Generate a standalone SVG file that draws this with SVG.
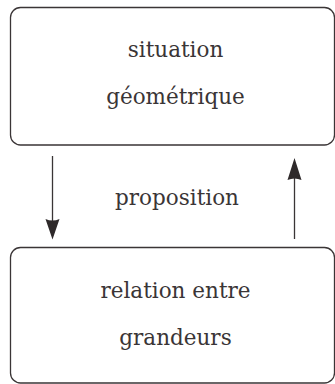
<svg xmlns="http://www.w3.org/2000/svg" width="335" height="384" viewBox="0 0 335 384">
  <style>
    .box { fill: #ffffff; stroke: #3a3536; stroke-width: 1.3; }
    .lbl { font-family: "DejaVu Serif", "Liberation Serif", serif; font-size: 21.5px; fill: #3a3536; text-anchor: middle; }
    .conn { stroke: #3a3536; stroke-width: 1.3; fill: none; }
    .head { fill: #2e292a; stroke: none; }
  </style>
  <rect width="335" height="384" fill="#ffffff"/>
  <g id="node-situation">
    <rect class="box" x="10.5" y="7.5" width="324" height="137.5" rx="10" ry="10"/>
    <text class="lbl" x="175.5" y="57">situation</text>
    <text class="lbl" x="175.5" y="104">géométrique</text>
  </g>
  <g id="node-relation">
    <rect class="box" x="10.5" y="247.5" width="324" height="135.5" rx="10" ry="10"/>
    <text class="lbl" x="175.5" y="298">relation entre</text>
    <text class="lbl" x="175.5" y="344.5">grandeurs</text>
  </g>
  <g id="connectors">
    <line class="conn" x1="52.5" y1="156" x2="52.5" y2="225"/>
    <path class="head" d="M52.5,239.5 L45.5,219 Q52.5,222 59.5,219 Z"/>
    <line class="conn" x1="294.5" y1="239" x2="294.5" y2="172"/>
    <path class="head" d="M294.5,158 L287.5,180 Q294.5,177 301.5,180 Z"/>
    <text class="lbl" x="177" y="205">proposition</text>
  </g>
</svg>
